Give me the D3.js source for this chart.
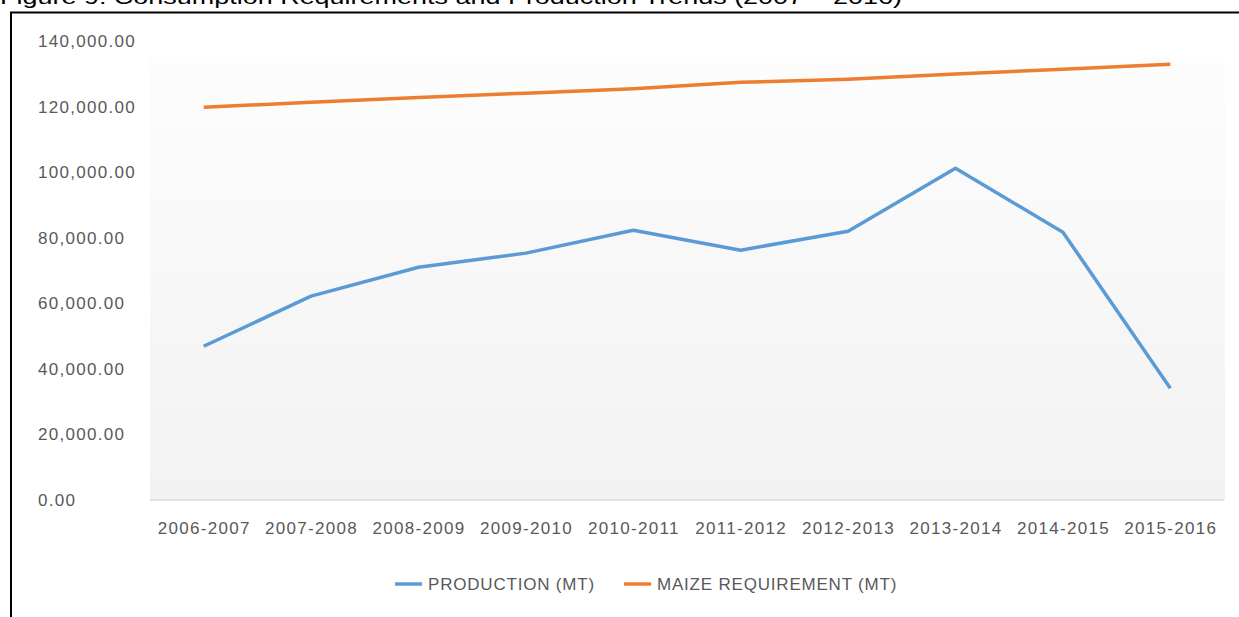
<!DOCTYPE html>
<html>
<head>
<meta charset="utf-8">
<script src="https://cdn.jsdelivr.net/npm/d3@7"></script>
<style>
  body { margin: 0; background: #fff; }
  svg { display: block; font-family: "Liberation Sans", Arial, sans-serif; }
</style>
</head>
<body>
<div id="chart"></div>
<script>
// data
var seasons = ["2006-2007", "2007-2008", "2008-2009", "2009-2010", "2010-2011",
               "2011-2012", "2012-2013", "2013-2014", "2014-2015", "2015-2016"];
var production = [46900, 62200, 71000, 75300, 82300, 76200, 82000, 101200, 81700, 34100];
var requirement = [119800, 121300, 122800, 124100, 125400, 127400, 128300, 129900, 131400, 132900];
var yTicks = [0, 20000, 40000, 60000, 80000, 100000, 120000, 140000];
var seriesNames = ["PRODUCTION (MT)", "MAIZE REQUIREMENT (MT)"];
var seriesColors = ["#5b9bd5", "#ed7d31"];

var W = 1239, H = 617;
var plot = { left: 150, right: 1225, top: 41, bottom: 500 };

var svg = d3.select("#chart").append("svg")
    .attr("width", W)
    .attr("height", H);

// title, cut off by the top of the picture
svg.append("text")
    .attr("x", 0)
    .attr("y", 4)
    .attr("font-family", "Liberation Sans, Arial, sans-serif")
    .attr("font-size", 21)
    .attr("fill", "#000")
    .attr("textLength", 902)
    .attr("lengthAdjust", "spacingAndGlyphs")
    .text("Figure 9: Consumption Requirements and Production Trends (2007 \u2013 2016)");

// frame (top and left edges)
svg.append("path")
    .attr("d", "M11," + H + "V12.5H" + W)
    .attr("fill", "none")
    .attr("stroke", "#000")
    .attr("stroke-width", 2);

// plot area gradient
var grad = svg.append("defs").append("linearGradient")
    .attr("id", "plotbg")
    .attr("x1", 0).attr("y1", 0).attr("x2", 0).attr("y2", 1);
grad.append("stop").attr("offset", "0%").attr("stop-color", "#fdfdfd");
grad.append("stop").attr("offset", "100%").attr("stop-color", "#f2f2f2");

svg.append("rect")
    .attr("x", plot.left)
    .attr("y", 57)
    .attr("width", plot.right - plot.left)
    .attr("height", plot.bottom - 57)
    .attr("fill", "url(#plotbg)");

var x = d3.scalePoint()
    .domain(seasons)
    .range([plot.left, plot.right - 1])
    .padding(0.5);

var y = d3.scaleLinear()
    .domain([0, 140000])
    .range([plot.bottom, plot.top]);

// baseline
svg.append("line")
    .attr("x1", plot.left).attr("x2", plot.right - 1)
    .attr("y1", plot.bottom).attr("y2", plot.bottom)
    .attr("stroke", "#d9d9d9")
    .attr("stroke-width", 1.5);

// y labels (left aligned as in the figure)
svg.append("g")
    .selectAll("text")
    .data(yTicks)
    .join("text")
    .attr("x", 38)
    .attr("y", function (d) { return y(d); })
    .attr("dy", "0.35em")
    .attr("font-size", 17)
    .attr("letter-spacing", 1.3)
    .attr("fill", "#595959")
    .text(function (d) { return d3.format(",.2f")(d); });

// x axis labels
var xAxis = svg.append("g")
    .attr("transform", "translate(0," + plot.bottom + ")")
    .call(d3.axisBottom(x).tickSize(0).tickPadding(22));
xAxis.select(".domain").remove();
xAxis.selectAll("text")
    .attr("font-family", "Liberation Sans, Arial, sans-serif")
    .attr("font-size", 17)
    .attr("letter-spacing", 1.3)
    .attr("fill", "#595959");

// the two lines
var line = d3.line()
    .x(function (d, i) { return x(seasons[i]); })
    .y(function (d) { return y(d); });

[production, requirement].forEach(function (vals, k) {
    svg.append("path")
        .datum(vals)
        .attr("fill", "none")
        .attr("stroke", seriesColors[k])
        .attr("stroke-width", 3.5)
        .attr("stroke-linejoin", "round")
        .attr("d", line);
});

// legend
var legendX = [395, 624];
var legend = svg.append("g");
seriesNames.forEach(function (name, k) {
    legend.append("line")
        .attr("x1", legendX[k]).attr("x2", legendX[k] + 27)
        .attr("y1", 584).attr("y2", 584)
        .attr("stroke", seriesColors[k])
        .attr("stroke-width", 3.5);
    legend.append("text")
        .attr("x", legendX[k] + 33)
        .attr("y", 584)
        .attr("dy", "0.35em")
        .attr("font-size", 17)
        .attr("letter-spacing", 0.8)
        .attr("fill", "#595959")
        .text(name);
});
</script>
</body>
</html>
